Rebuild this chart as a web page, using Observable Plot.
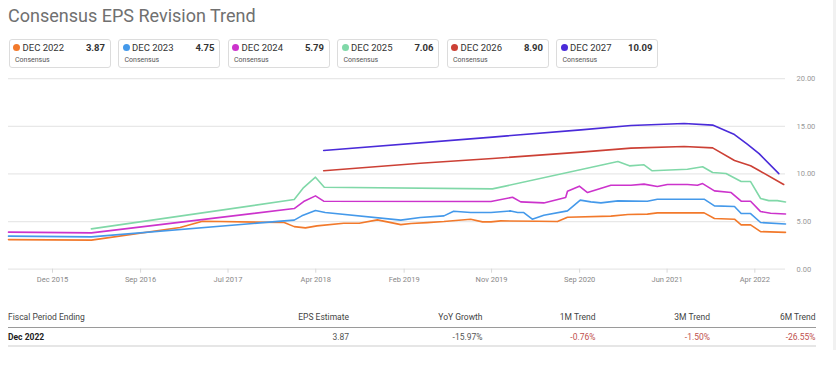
<!DOCTYPE html>
<html><head><meta charset="utf-8">
<script src="https://cdn.jsdelivr.net/npm/d3@7"></script>
<script src="https://cdn.jsdelivr.net/npm/@observablehq/plot@0.6"></script>
<style>
body{margin:0;background:#fff;font-family:Roboto,sans-serif;width:836px;height:367px;overflow:hidden;position:relative}
#title{position:absolute;left:8px;top:7px;font-size:18px;line-height:18px;color:#707070;white-space:nowrap}
.box{position:absolute;top:39px;width:102px;height:29px;box-sizing:border-box;border:1px solid #dcdcdc;border-radius:3px;background:#fff}
.dot{position:absolute;left:3.7px;top:4.2px;width:7px;height:7px;border-radius:50%}
.name{position:absolute;left:13px;top:2px;font-size:9.5px;color:#333;line-height:12px;white-space:nowrap}
.val{position:absolute;right:4.5px;top:2px;font-size:9.5px;color:#333;font-weight:bold;line-height:12px}
.sub{position:absolute;left:5.5px;top:15px;font-size:7px;color:#555;line-height:10px}
#chart{position:absolute;left:0;top:70px}
.cell{position:absolute;font-size:8.5px;line-height:12px;white-space:nowrap}
.hline{position:absolute;left:8px;width:808px}
#band{position:absolute;left:832.5px;top:0;width:4px;height:350px;background:#f1f1f1}
</style></head>
<body>
<div id="title">Consensus EPS Revision Trend</div>
<div id="legend"></div>
<div id="chart"></div>
<div id="table"></div>
<div id="band"></div>
<script>
// ---- Data ----
const seriesNames = ["DEC 2022","DEC 2023","DEC 2024","DEC 2025","DEC 2026","DEC 2027"];
const latestValues = ["3.87","4.75","5.79","7.06","8.90","10.09"];
const seriesColors = ["#f2792b","#4499ea","#cc33cc","#80d8a8","#cc4035","#4a2bd9"];

const dec2022Dates = ["2015-07-09","2016-04-07","2017-01-24","2017-04-08","2017-06-06","2018-01-02","2018-02-04","2018-03-13","2018-04-20","2018-07-17","2018-09-06","2018-11-05","2019-01-21","2019-02-24","2019-04-18","2019-06-12","2019-09-08","2019-10-17","2019-11-14","2019-12-16","2020-04-15","2020-06-20","2020-07-23","2020-12-13","2021-02-07","2021-04-12","2021-05-15","2021-10-16","2021-11-19","2022-01-24","2022-02-15","2022-03-18","2022-04-20","2022-07-11"];
const dec2022Values = [3.11,3.05,4.37,5.04,5.00,4.90,4.47,4.34,4.55,4.83,4.83,5.18,4.68,4.79,4.89,5.00,5.25,4.97,4.97,5.07,5.04,5.00,5.46,5.57,5.74,5.78,5.91,5.91,5.32,5.25,4.65,4.65,3.95,3.87];

const dec2023Dates = ["2015-07-09","2016-04-07","2018-01-02","2018-02-04","2018-03-01","2018-04-15","2018-05-17","2019-01-21","2019-03-26","2019-06-12","2019-07-14","2019-09-08","2019-11-14","2020-01-18","2020-02-10","2020-03-01","2020-03-29","2020-05-06","2020-07-23","2020-09-03","2020-10-08","2020-11-10","2021-01-05","2021-04-12","2021-05-15","2021-10-16","2021-11-19","2022-01-24","2022-02-15","2022-03-18","2022-04-20","2022-07-11"];
const dec2023Values = [3.47,3.39,5.07,5.15,5.60,6.16,5.95,5.15,5.42,5.60,6.09,5.95,5.95,6.12,5.95,5.95,5.25,5.67,6.12,7.25,7.07,6.96,7.17,7.14,7.35,7.35,6.65,6.58,5.84,5.84,4.90,4.75];

const dec2024Dates = ["2015-07-09","2016-04-07","2018-02-04","2018-03-07","2018-04-15","2018-05-12","2019-11-14","2020-01-24","2020-02-20","2020-05-06","2020-07-17","2020-07-23","2020-08-31","2020-09-27","2020-12-13","2021-02-17","2021-04-01","2021-05-15","2021-06-17","2021-08-22","2021-09-24","2021-10-11","2021-11-19","2022-01-13","2022-02-15","2022-03-18","2022-04-20","2022-05-23","2022-07-11"];
const dec2024Values = [3.89,3.81,6.37,7.10,7.70,7.14,7.10,7.55,7.07,6.96,7.52,8.19,8.72,8.05,8.82,8.82,8.93,8.68,8.89,8.89,8.82,8.99,8.22,8.05,7.14,7.14,6.05,5.88,5.79];

const dec2025Dates = ["2016-04-07","2018-02-04","2018-03-07","2018-04-15","2018-05-14","2019-11-19","2021-01-05","2021-02-12","2021-04-01","2021-04-28","2021-08-22","2021-10-11","2021-11-13","2021-12-27","2022-02-15","2022-03-18","2022-04-20","2022-05-17","2022-06-14","2022-07-11"];
const dec2025Values = [4.23,7.31,8.57,9.66,8.61,8.43,11.30,10.85,10.96,10.33,10.50,10.75,10.15,10.04,9.20,9.20,7.42,7.20,7.20,7.06];

const dec2026Dates = ["2018-05-12","2019-03-26","2019-11-19","2020-09-05","2021-02-17","2021-08-11","2021-11-13","2022-01-24","2022-03-18","2022-04-15","2022-07-05"];
const dec2026Values = [10.33,11.13,11.62,12.29,12.71,12.88,12.74,11.41,10.86,10.36,8.89];

const dec2027Dates = ["2018-05-12","2019-11-19","2020-09-05","2021-02-17","2021-08-11","2021-11-13","2022-01-24","2022-03-07","2022-04-15","2022-06-19"];
const dec2027Values = [12.46,13.87,14.63,15.08,15.29,15.13,14.14,13.13,12.14,10.04];

const xTickDates = ["2015-12-01","2016-09-16","2017-07-01","2018-04-16","2019-02-01","2019-11-16","2020-09-01","2021-06-16","2022-04-01"];
const yTicks = [0,5,10,15,20];

const tableHeaders = ["Fiscal Period Ending","EPS Estimate","YoY Growth","1M Trend","3M Trend","6M Trend"];
const tableRow = ["Dec 2022","3.87","-15.97%","-0.76%","-1.50%","-26.55%"];

// ---- Build ----
const allDates = [dec2022Dates,dec2023Dates,dec2024Dates,dec2025Dates,dec2026Dates,dec2027Dates];
const allValues = [dec2022Values,dec2023Values,dec2024Values,dec2025Values,dec2026Values,dec2027Values];
const series = seriesNames.map((name,i)=>({
  name, color: seriesColors[i],
  data: allDates[i].map((d,j)=>({date:new Date(d+"T00:00:00Z"), value: allValues[i][j]}))
}));

// legend
const legend = document.getElementById("legend");
seriesNames.forEach((n,i)=>{
  const b = document.createElement("div");
  b.className="box"; b.style.left=(8.5+i*109.5)+"px";
  b.innerHTML = `<div class="dot" style="background:${seriesColors[i]}"></div><div class="name">${n}</div><div class="val">${latestValues[i]}</div><div class="sub">Consensus</div>`;
  legend.appendChild(b);
});

const chart = Plot.plot({
  width: 836, height: 215,
  marginLeft: 8, marginRight: 51, marginTop: 8.2, marginBottom: 16.3,
  x: {type:"utc", domain:[new Date("2015-07-09T00:00:00Z"), new Date("2022-07-11T00:00:00Z")], label:null},
  y: {domain:[0,20], label:null},
  style: {fontFamily:"Roboto", fontSize:"7.5px", background:"transparent", overflow:"visible"},
  marks: [
    Plot.gridY(yTicks, {stroke:"#e8e8e8", strokeOpacity:1, strokeWidth:1.3}),
    ...series.map(s=>Plot.lineY(s.data,{x:"date", y:"value", stroke:s.color, strokeWidth:1.6})),
    Plot.axisX(xTickDates.map(d=>new Date(d+"T00:00:00Z")), {tickFormat:d3.utcFormat("%b %Y"), tickSize:4, tickPadding:3, stroke:"#d8d8d8", fill:"#888", label:null}),
    Plot.axisY(yTicks, {anchor:"right", tickSize:0, tickPadding:11, tickFormat:d=>d.toFixed(2), fill:"#999", label:null})
  ]
});
document.getElementById("chart").appendChild(chart);

// table
const table = document.getElementById("table");
const colRight = [null,349,482.5,595.5,710,815.6];
function addRow(cells, top, isHeader){
  cells.forEach((t,i)=>{
    const c=document.createElement("div");
    c.className="cell"; c.textContent=t; c.style.top=top+"px";
    if(i===0){c.style.left="8px";}
    else{c.style.right=(836-colRight[i])+"px";}
    let color="#444";
    if(!isHeader){
      if(i===0){color="#222";c.style.fontWeight="bold";}
      else if(i>=3){color="#c0504d";}
      else color="#555";
    }
    c.style.color=color;
    table.appendChild(c);
  });
}
addRow(tableHeaders,311.3,true);
addRow(tableRow,330.7,false);
const l1=document.createElement("div");l1.className="hline";l1.style.top="326.8px";l1.style.height="1px";l1.style.background="#9a9a9a";table.appendChild(l1);
const l2=document.createElement("div");l2.className="hline";l2.style.top="345px";l2.style.height="1.5px";l2.style.background="#e6e6e6";table.appendChild(l2);
</script>
</body></html>
